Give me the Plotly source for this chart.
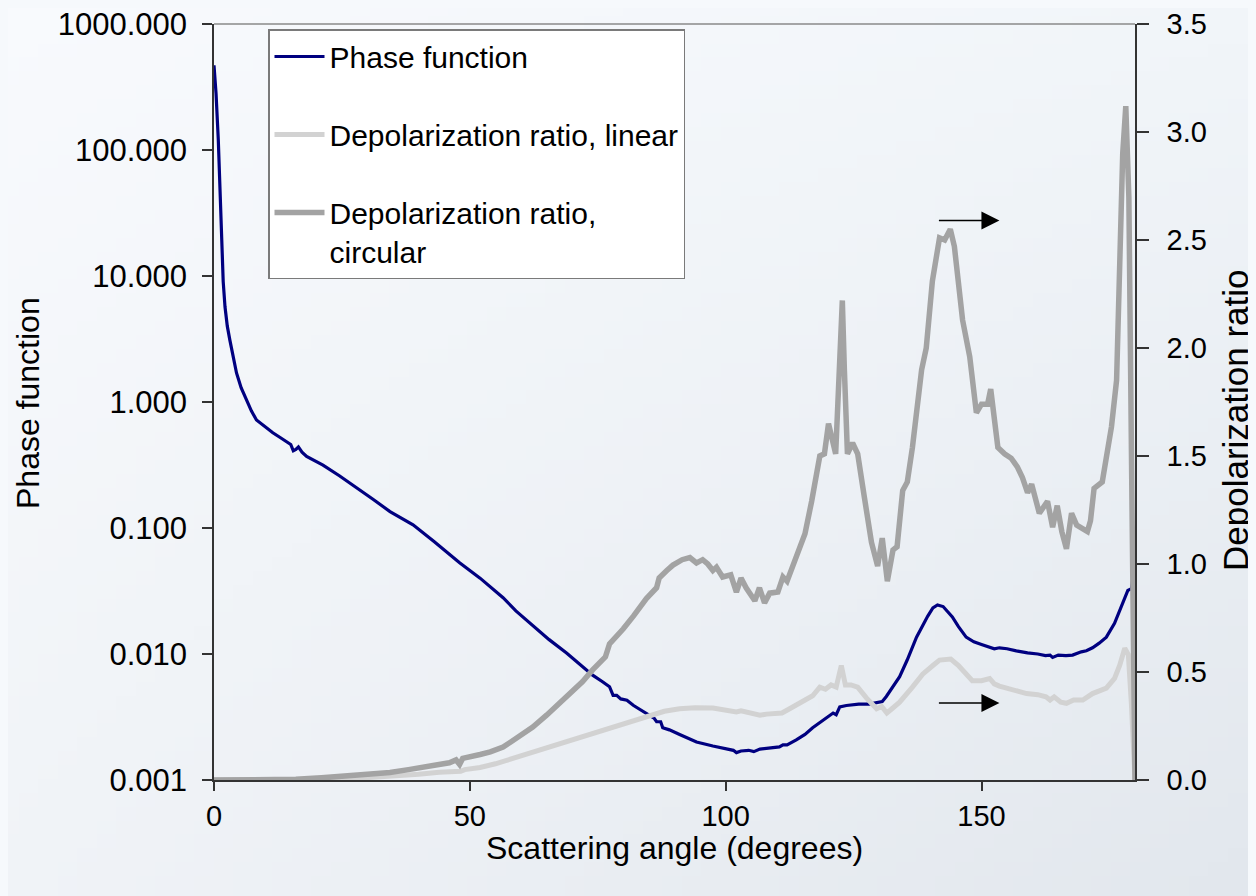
import base64
import struct
import zlib

import plotly.graph_objects as go

# ---------------- data ----------------
phase_angle = [0.0, 0.4, 0.84, 1.2, 1.5, 1.8, 2.15, 2.6, 3.1, 3.7, 4.4, 5.3, 6.4, 7.3, 8.3, 10, 11.5, 13,
               14.2, 15.0, 15.5, 16.0, 16.5, 17.2, 18.1, 21.3, 24.5, 27.9, 31, 34.4, 38.9, 43, 46, 48, 52,
               56.5, 59, 62.3, 65.5, 68.9, 71.5, 74, 76, 77.3, 78, 78.7, 79.5, 80.7, 82, 83.8, 86, 86.5,
               87.3, 87.7, 89, 91, 94.3, 97.5, 100, 101.5, 102.1, 103, 104.5, 105.5, 106.7, 108, 110.5,
               111.2, 112, 113.8, 115.5, 117, 119, 121, 121.6, 122.3, 123.6, 126, 128, 129.5, 130.6,
               131.4, 132.5, 134, 135.5, 137.3, 139.5, 140.5, 141.4, 142.5, 144.3, 145.5, 147, 148.5,
               150, 151.6, 152.5, 153.5, 155, 156.8, 159, 161, 162.5, 163.4, 163.9, 165, 166.5, 167.8,
               169.5, 170.5, 171.7, 173, 174.4, 176, 177, 178, 178.6, 179.3, 180]
phase_value = [470, 280, 120, 45, 19.3, 9, 5.7, 4.0, 3.1, 2.3, 1.7, 1.3, 1.04, 0.85, 0.72, 0.63, 0.57, 0.52,
               0.48, 0.46, 0.41, 0.42, 0.44, 0.40, 0.37, 0.316, 0.26, 0.21, 0.17, 0.135, 0.106, 0.078,
               0.062, 0.053, 0.040, 0.028, 0.022, 0.017, 0.013, 0.0102, 0.0083, 0.0068, 0.0060, 0.0055,
               0.0047, 0.0047, 0.0044, 0.0043, 0.0039, 0.0035, 0.0031, 0.0029, 0.0029, 0.0026, 0.0025,
               0.0023, 0.0020, 0.00186, 0.00178, 0.00172, 0.00165, 0.0017, 0.00172, 0.00168, 0.00176,
               0.00178, 0.00183, 0.0019, 0.0019, 0.00208, 0.0023, 0.0026, 0.0030, 0.0034, 0.0033, 0.0038,
               0.0039, 0.0040, 0.0040, 0.0041, 0.0042, 0.0046, 0.0054, 0.0066, 0.0090, 0.0136, 0.0200,
               0.0232, 0.0245, 0.0238, 0.0197, 0.0165, 0.0136, 0.0125, 0.0119, 0.0114, 0.0110, 0.0112,
               0.0110, 0.0106, 0.0102, 0.0100, 0.0097, 0.0098, 0.0094, 0.0098, 0.0097, 0.0098, 0.0104,
               0.0106, 0.0112, 0.0122, 0.0136, 0.0175, 0.0223, 0.0285, 0.032, 0.033, 0.052]

linear_angle = [0, 10, 20, 28, 32.4, 36, 40, 44, 47.5, 48.2, 49, 52, 55, 58.4, 62, 65, 68.9, 72, 75, 78,
                78.5, 81, 84.5, 88, 91, 94, 97.5, 100, 102.1, 103, 105, 106.7, 108, 111, 112.5, 114.5,
                117, 118.4, 119.5, 120.6, 121.6, 122.6, 123.4, 124.5, 125.8, 127.5, 129.5, 130.5, 131.5,
                132.5, 134, 136.5, 138.5, 140.5, 141.8, 144, 145.5, 148.2, 150, 151.6, 152.5, 153.5, 156,
                158.8, 161, 162.6, 163.4, 164.2, 165.5, 166.6, 168, 169.8, 171.7, 174.4, 176, 177, 178,
                178.7, 179.3, 180]
linear_value = [0.0, 0.0, 0.002, 0.008, 0.014, 0.02, 0.027, 0.036, 0.044, 0.040, 0.048, 0.058, 0.075, 0.10,
                0.125, 0.148, 0.177, 0.20, 0.222, 0.245, 0.25, 0.27, 0.295, 0.318, 0.33, 0.335, 0.333,
                0.325, 0.315, 0.32, 0.31, 0.30, 0.305, 0.31, 0.33, 0.355, 0.39, 0.43, 0.42, 0.44, 0.43,
                0.53, 0.44, 0.44, 0.43, 0.38, 0.33, 0.34, 0.31, 0.33, 0.36, 0.43, 0.49, 0.53, 0.555, 0.56,
                0.53, 0.46, 0.46, 0.47, 0.445, 0.435, 0.42, 0.40, 0.395, 0.385, 0.37, 0.385, 0.36, 0.355,
                0.37, 0.37, 0.40, 0.425, 0.47, 0.53, 0.61, 0.58, 0.35, 0.0]

circular_angle = [0, 10, 16, 21, 26, 30, 34.4, 38, 42, 46, 47.3, 48, 48.6, 50, 52, 54, 56.5, 58, 60, 62.3,
                  65, 68.9, 72, 74, 76.5, 77.3, 78.5, 80, 82, 84.5, 86.5, 87, 88.5, 89.7, 91.5, 93, 94.3,
                  95.5, 96.5, 97.5, 98.2, 99.4, 101, 102.1, 103, 104, 105.7, 106.6, 107.6, 108.6, 110.2,
                  111.2, 112, 113.2, 115.5, 116.8, 117.8, 118.4, 119.3, 120.1, 121.5, 122.3, 122.8, 123.2,
                  123.8, 124.8, 125.8, 127.1, 128.5, 129.7, 130.6, 131.6, 132.7, 133.5, 134.6, 135.5,
                  136.5, 138.3, 139.2, 140.4, 141.8, 142.8, 143.9, 144.7, 146.3, 147.7, 149, 150, 151.2,
                  151.8, 153.2, 154.5, 155.8, 157, 158, 159, 159.8, 161.3, 162.9, 163.9, 164.8, 165.7,
                  166.6, 167.6, 168.6, 170.0, 170.7, 171.3, 172, 173.6, 175.4, 176.4, 177, 177.6, 178.2,
                  178.8, 179.4, 180]
circular_value = [0.0, 0.0, 0.003, 0.01, 0.018, 0.026, 0.035, 0.048, 0.063, 0.08, 0.093, 0.072, 0.10, 0.106,
                  0.118, 0.13, 0.153, 0.176, 0.205, 0.245, 0.30, 0.385, 0.455, 0.51, 0.57, 0.63, 0.66, 0.70,
                  0.76, 0.84, 0.89, 0.935, 0.97, 0.995, 1.02, 1.03, 1.005, 1.02, 1.0, 0.97, 0.985, 0.94,
                  0.95, 0.87, 0.935, 0.89, 0.83, 0.89, 0.82, 0.865, 0.87, 0.94, 0.92, 1.0, 1.14, 1.29, 1.42,
                  1.50, 1.51, 1.65, 1.51, 1.9, 2.22, 1.9, 1.51, 1.56, 1.51, 1.31, 1.10, 0.99, 1.12, 0.92,
                  1.065, 1.08, 1.34, 1.38, 1.54, 1.90, 2.0, 2.31, 2.51, 2.50, 2.55, 2.47, 2.13, 1.96, 1.70,
                  1.74, 1.74, 1.81, 1.54, 1.51, 1.49, 1.45, 1.40, 1.33, 1.37, 1.235, 1.29, 1.17, 1.27, 1.15,
                  1.07, 1.235, 1.18, 1.16, 1.15, 1.2, 1.35, 1.38, 1.635, 1.85, 2.31, 2.9, 3.12, 2.7, 1.3, 0.0]

left_tickvals = [0.001, 0.01, 0.1, 1, 10, 100, 1000]
left_ticktext = ["0.001", "0.010", "0.100", "1.000", "10.000", "100.000", "1000.000"]
right_tickvals = [0.0, 0.5, 1.0, 1.5, 2.0, 2.5, 3.0, 3.5]
x_tickvals = [0, 50, 100, 150]

# arrows pointing to the right-hand axis: (head angle, depolarization value)
arrow_heads = [(153.5, 2.59), (153.5, 0.357)]

# ---------------- figure ----------------
FONT = "Arial, Liberation Sans, sans-serif"
BG = "#f3f6fa"

# page body has an 8 px margin; plot area spans 214..1135 x 24..780 in the window
OFF = 8
PW, PH = 921, 756
ML, MT = 214 - OFF, 24 - OFF
W, H = 1256 - OFF, 896 - OFF
MR, MB = W - ML - PW, H - MT - PH


def px_x(px):  # window pixel -> paper x
    return (px - OFF - ML) / PW


def px_y(py):  # window pixel -> paper y
    return (MT + PH - (py - OFF)) / PH


def gradient_png(w, h, tl, tr, bl, br):
    rows = []
    for j in range(h):
        fy = j / (h - 1)
        row = bytearray([0])
        for i in range(w):
            fx = i / (w - 1)
            for c in range(3):
                top = tl[c] * (1 - fx) + tr[c] * fx
                bot = bl[c] * (1 - fx) + br[c] * fx
                row.append(int(round(top * (1 - fy) + bot * fy)))
        rows.append(bytes(row))
    raw = b"".join(rows)

    def chunk(tag, data):
        return (struct.pack(">I", len(data)) + tag + data
                + struct.pack(">I", zlib.crc32(tag + data) & 0xffffffff))

    png = (b"\x89PNG\r\n\x1a\n"
           + chunk(b"IHDR", struct.pack(">IIBBBBB", w, h, 8, 2, 0, 0, 0))
           + chunk(b"IDAT", zlib.compress(raw, 9))
           + chunk(b"IEND", b""))
    return "data:image/png;base64," + base64.b64encode(png).decode()


bg_src = gradient_png(64, 64, (248, 250, 253), (241, 245, 249), (240, 243, 247), (226, 231, 237))

fig = go.Figure()
fig.add_trace(go.Scatter(x=linear_angle, y=linear_value, name="Depolarization ratio, linear",
                         mode="lines", line=dict(color="#d2d2d2", width=5), yaxis="y2",
                         legendrank=2, legendgroup="b"))
fig.add_trace(go.Scatter(x=circular_angle, y=circular_value, name="Depolarization ratio,<br>circular",
                         mode="lines", line=dict(color="#a3a3a3", width=5.5), yaxis="y2",
                         legendrank=3, legendgroup="c"))
fig.add_trace(go.Scatter(x=phase_angle, y=phase_value, name="Phase function",
                         mode="lines", line=dict(color="#000080", width=3.2), yaxis="y",
                         legendrank=1, legendgroup="a"))

for ax_, ay_ in arrow_heads:
    fig.add_annotation(x=ax_, y=ay_, xref="x", yref="y2", ax=-62, ay=0, text="",
                       showarrow=True, arrowhead=2, arrowsize=2.4, arrowwidth=1.5,
                       arrowcolor="black")

# axis titles
fig.add_annotation(text="Phase function", xref="paper", yref="paper", x=px_x(28), y=px_y(403),
                   showarrow=False, textangle=-90, font=dict(family=FONT, size=32, color="black"),
                   xanchor="center", yanchor="middle")
fig.add_annotation(text="Depolarization ratio", xref="paper", yref="paper", x=px_x(1235),
                   y=px_y(420), showarrow=False, textangle=-90,
                   font=dict(family=FONT, size=35, color="black"), xanchor="center", yanchor="middle")
fig.add_annotation(text="Scattering angle (degrees)", xref="paper", yref="paper", x=0.5,
                   y=px_y(848), showarrow=False, font=dict(family=FONT, size=32, color="black"),
                   xanchor="center", yanchor="middle")

# top border of plot area
fig.add_shape(type="line", xref="paper", yref="paper", x0=0, x1=1, y0=1, y1=1,
              line=dict(color="#8a8a8a", width=1.5))

# soft background gradient covering the whole figure
fig.add_layout_image(source=bg_src, xref="paper", yref="paper", x=-ML / PW, y=1 + MT / PH,
                     sizex=W / PW, sizey=H / PH, xanchor="left", yanchor="top",
                     sizing="stretch", layer="below", opacity=1)

fig.update_layout(
    width=W, height=H,
    margin=dict(l=ML, r=MR, t=MT, b=MB, autoexpand=False),
    paper_bgcolor=BG, plot_bgcolor="rgba(0,0,0,0)",
    font=dict(family=FONT, size=28, color="black"),
    showlegend=True,
    legend=dict(x=px_x(268), y=px_y(29), xanchor="left", yanchor="top",
                bgcolor="white", bordercolor="#7a7a7a", borderwidth=1.5,
                font=dict(family=FONT, size=30, color="black"),
                itemwidth=50, tracegroupgap=36, valign="top"),
    xaxis=dict(range=[0, 180], tickvals=x_tickvals, ticks="outside", ticklen=9, tickwidth=1.5,
               tickcolor="#333", showline=True, linecolor="#333", linewidth=1.5, showgrid=False,
               zeroline=False, tickfont=dict(size=29), automargin=False, ticklabeloverflow="allow"),
    yaxis=dict(type="log", range=[-3, 3], tickvals=left_tickvals, ticktext=left_ticktext,
               ticks="outside", ticklen=10, tickwidth=1.5, tickcolor="#333", showline=True,
               linecolor="#333", linewidth=1.5, showgrid=False, zeroline=False,
               tickfont=dict(size=31), automargin=False, ticklabeloverflow="allow",
               ticklabelstandoff=9),
    yaxis2=dict(range=[0, 3.5], tickvals=right_tickvals, tickformat=".1f", overlaying="y",
                side="right", ticks="outside", ticklen=12, tickwidth=1.5, tickcolor="#333",
                showline=True, linecolor="#333", linewidth=1.5, showgrid=False, zeroline=False,
                tickfont=dict(size=29), automargin=False, ticklabeloverflow="allow",
                ticklabelstandoff=12),
)

fig.write_html("out.html",
               post_script="document.body.style.backgroundColor='#f6f9fc';")
